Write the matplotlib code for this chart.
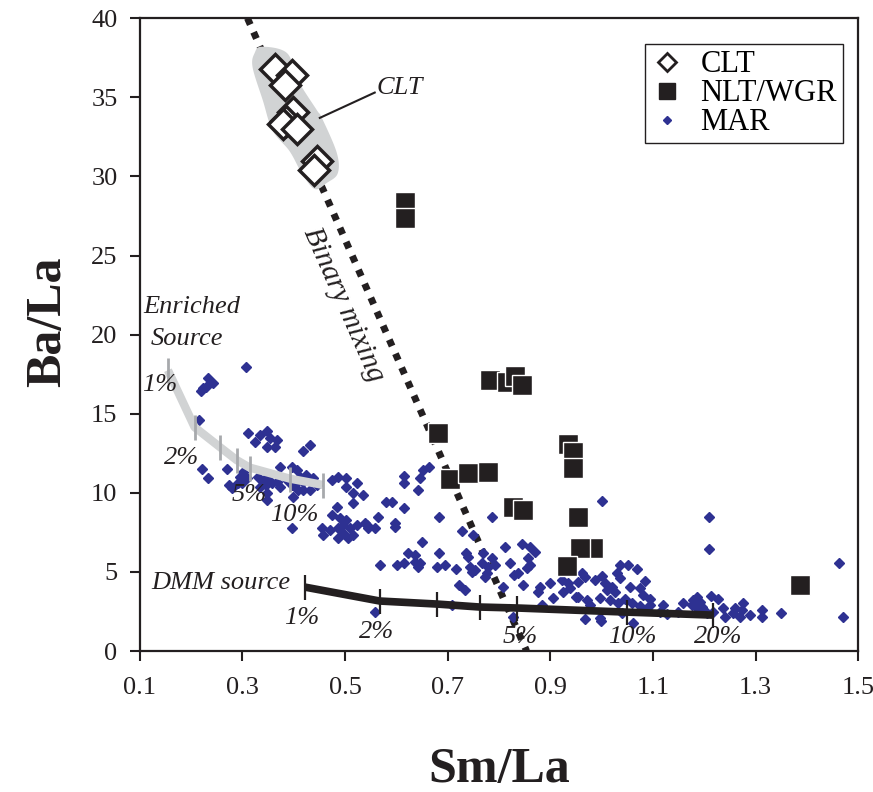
import numpy as np
import matplotlib.pyplot as plt
from matplotlib.lines import Line2D

plt.rcParams['font.family'] = ['Liberation Serif', 'DejaVu Serif']

INK = '#231f20'
BLUE = '#2e3192'
GRAY_FILL = '#d1d3d4'
GRAY_TICK = '#a7a9ac'

# CLT samples (open diamonds)
clt_sm = [0.363, 0.396, 0.383, 0.398, 0.385, 0.380, 0.406, 0.445, 0.440]
clt_ba = [36.8, 36.4, 35.8, 34.1, 33.5, 33.3, 33.0, 31.0, 30.4]

# NLT/WGR samples (filled squares)
nlt_sm = [0.617, 0.617, 0.681, 0.704, 0.739, 0.778, 0.782, 0.815, 0.831, 0.845,
          0.827, 0.847, 0.934, 0.944, 0.944, 0.954, 0.983, 0.958, 0.932, 1.387]
nlt_ba = [28.4, 27.35, 13.8, 10.9, 11.25, 11.3, 17.1, 17.0, 17.4, 16.8,
          9.1, 8.9, 13.1, 12.6, 11.55, 8.45, 6.5, 6.5, 5.4, 4.17]

# MAR basalts (Sm/La, Ba/La)
mar = [
    (0.307, 17.94), (0.233, 17.25), (0.242, 16.93), (0.223, 16.61), (0.219, 16.42),
    (0.229, 16.68), (0.215, 14.59), (0.312, 13.77), (0.334, 13.65), (0.348, 13.90),
    (0.324, 13.20), (0.353, 13.46), (0.367, 13.33), (0.349, 12.89), (0.363, 12.89),
    (0.418, 12.63), (0.431, 13.01), (0.221, 11.50), (0.233, 10.93), (0.270, 11.50),
    (0.373, 11.62), (0.396, 11.62), (0.406, 11.43), (0.295, 10.99), (0.301, 11.31),
    (0.309, 10.93), (0.291, 10.61), (0.299, 10.61), (0.275, 10.49), (0.279, 10.30),
    (0.330, 10.99), (0.340, 10.68), (0.349, 10.99), (0.334, 10.36), (0.346, 10.49),
    (0.357, 10.61), (0.367, 10.68), (0.373, 10.36), (0.387, 10.80), (0.396, 10.49),
    (0.406, 10.68), (0.412, 10.99), (0.418, 10.68), (0.425, 11.12), (0.408, 10.17),
    (0.418, 10.17), (0.398, 9.73), (0.437, 10.93), (0.445, 10.49), (0.431, 10.17),
    (0.474, 10.80), (0.486, 10.99), (0.503, 10.93), (0.523, 10.61), (0.503, 10.36),
    (0.515, 9.98), (0.535, 9.85), (0.515, 9.35), (0.348, 9.98), (0.349, 9.54),
    (0.396, 7.77), (0.484, 9.10), (0.474, 8.59), (0.490, 8.40), (0.503, 8.28),
    (0.496, 7.96), (0.486, 7.77), (0.509, 7.77), (0.523, 7.96), (0.455, 7.77),
    (0.457, 7.33), (0.470, 7.64), (0.496, 7.45), (0.505, 7.14), (0.515, 7.33),
    (0.486, 7.14), (0.542, 7.96),
    (0.616, 11.05), (0.616, 10.61), (0.646, 10.93), (0.642, 10.17), (0.652, 11.43),
    (0.663, 11.62), (0.579, 9.41), (0.591, 9.41), (0.616, 9.03), (0.564, 8.46),
    (0.539, 8.09), (0.544, 7.77), (0.558, 7.77), (0.597, 8.09), (0.597, 7.83),
    (0.683, 8.46), (0.786, 8.46), (0.728, 7.58), (0.749, 7.33), (0.650, 6.89),
    (0.622, 6.19), (0.636, 6.06), (0.636, 5.62), (0.642, 5.31), (0.646, 5.56),
    (0.568, 5.43), (0.601, 5.43), (0.616, 5.56), (0.683, 6.19), (0.679, 5.31),
    (0.694, 5.43), (0.716, 5.18), (0.735, 6.19), (0.739, 5.94), (0.743, 5.31),
    (0.747, 4.99), (0.753, 5.12), (0.767, 5.56), (0.778, 5.31), (0.786, 5.87),
    (0.776, 4.93), (0.772, 4.67), (0.792, 5.43), (0.811, 6.57), (0.821, 5.56),
    (0.829, 4.80), (0.837, 4.93), (0.846, 4.17), (0.845, 6.76), (0.860, 6.57),
    (0.870, 6.25), (0.856, 5.87), (0.860, 5.43), (0.854, 5.24), (0.807, 4.04),
    (0.880, 4.04), (0.876, 3.73), (0.899, 4.30), (0.905, 3.35), (0.922, 4.49),
    (0.924, 3.73), (0.934, 4.30), (0.938, 3.98), (0.950, 3.41), (0.722, 4.17),
    (0.733, 3.85), (0.708, 2.91), (0.884, 2.91), (0.558, 2.46), (0.827, 2.15),
    (0.769, 6.19),
    (1.000, 9.48), (1.209, 8.46), (1.209, 6.44), (1.462, 5.56), (1.036, 5.43),
    (1.051, 5.43), (1.069, 5.18), (1.000, 4.74), (1.030, 4.93), (1.036, 4.61),
    (1.084, 4.42), (0.961, 4.93), (0.967, 4.67), (0.954, 4.36), (0.987, 4.49),
    (1.006, 4.30), (1.020, 4.04), (1.010, 3.85), (1.026, 3.73), (1.055, 4.04),
    (1.075, 3.98), (0.954, 3.41), (0.971, 3.22), (0.977, 2.91), (0.997, 3.35),
    (1.016, 3.22), (1.032, 3.03), (1.045, 3.28), (1.059, 3.03), (1.080, 3.54),
    (1.094, 3.28), (1.075, 2.84), (1.088, 2.59), (1.094, 2.91), (1.039, 2.40),
    (0.997, 2.08), (0.967, 2.02), (1.119, 2.91), (1.113, 2.46), (1.127, 2.34),
    (1.149, 2.46), (1.158, 3.03), (1.178, 3.22), (1.186, 3.41), (1.192, 3.10),
    (1.176, 2.91), (1.195, 2.78), (1.186, 2.72), (1.213, 3.47), (1.227, 3.28),
    (1.205, 2.40), (1.217, 2.46), (1.236, 2.72), (1.240, 2.15), (1.256, 2.40),
    (1.260, 2.72), (1.275, 3.03), (1.273, 2.59), (1.269, 2.15), (1.289, 2.27),
    (1.312, 2.59), (1.312, 2.15), (1.349, 2.40), (1.470, 2.15), (0.998, 1.90),
    (1.061, 1.77),
]
mar = np.array(mar)

# melting curves
dmm_sm = [0.422, 0.568, 0.679, 0.763, 0.835, 1.049, 1.217]
dmm_ba = [4.04, 3.16, 2.97, 2.78, 2.72, 2.46, 2.27]
dmm_lab = [('1%', 0.416, 2.08), ('2%', 0.562, 1.20), ('5%', 0.841, 0.88),
           ('10%', 1.059, 0.88), ('20%', 1.227, 0.88)]

enr_sm = [0.155, 0.207, 0.256, 0.289, 0.314, 0.392, 0.457]
enr_ba = [17.75, 14.15, 12.9, 12.07, 11.6, 10.9, 10.5]
enr_lab = [('1%', 0.139, 16.8), ('2%', 0.182, 12.19), ('5%', 0.314, 9.85),
           ('10%', 0.402, 8.59)]

# binary mixing line end points
mix_sm = [0.31, 0.854]
mix_ba = [40, 0]

# outline of the CLT field
blob_sm = [0.338, 0.387, 0.408, 0.445, 0.455, 0.484, 0.486, 0.465, 0.441,
           0.416, 0.392, 0.359, 0.340, 0.320, 0.324]
blob_ba = [38.2, 37.8, 36.1, 34.2, 33.7, 31.5, 30.2, 29.6, 29.2,
           30.2, 31.6, 32.9, 34.8, 36.9, 37.8]


def smooth_closed(xs, ys, n=12):
    # periodic catmull-rom through the outline points
    p = np.column_stack([xs, ys])
    out = []
    m = len(p)
    for i in range(m):
        p0, p1, p2, p3 = p[i - 1], p[i], p[(i + 1) % m], p[(i + 2) % m]
        for t in np.linspace(0, 1, n, endpoint=False):
            t2, t3 = t * t, t * t * t
            out.append(0.5 * ((2 * p1) + (-p0 + p2) * t
                              + (2 * p0 - 5 * p1 + 4 * p2 - p3) * t2
                              + (-p0 + 3 * p1 - 3 * p2 + p3) * t3))
    return np.array(out)


fig = plt.figure(figsize=(8.73, 7.92), dpi=100)
ax = fig.add_axes([0.160, 0.178, 0.823, 0.799])

ax.plot(mix_sm, mix_ba, color=INK, lw=5, dashes=(1, 1.2), dash_capstyle='butt', zorder=2)

bl = smooth_closed(blob_sm, blob_ba)
ax.fill(bl[:, 0], bl[:, 1], color=GRAY_FILL, lw=0, zorder=3)

ax.plot(mar[:, 0], mar[:, 1], ls='none', marker='D', ms=4.8, color=BLUE, mec=BLUE, zorder=4)

ANN = 19

# enriched source melting curve
ax.plot(enr_sm, enr_ba, color=GRAY_FILL, lw=6, solid_capstyle='butt', zorder=5)
ax.plot(enr_sm, enr_ba, ls='none', marker='|', ms=18, mew=2, color=GRAY_TICK, zorder=5)
for s, x, y in enr_lab:
    ax.text(x, y, s, fontsize=ANN, style='italic', color=INK, ha='center', va='center', zorder=6)

# DMM melting curve
ax.plot(dmm_sm, dmm_ba, color=INK, lw=5.5, solid_capstyle='butt', zorder=5)
ax.plot(dmm_sm, dmm_ba, ls='none', marker='|', ms=18, mew=1.6, color=INK, zorder=5)
for s, x, y in dmm_lab:
    ax.text(x, y, s, fontsize=ANN, style='italic', color=INK, ha='center', va='center', zorder=6)

ax.plot(nlt_sm, nlt_ba, ls='none', marker='s', ms=14, mfc=INK, mec='white', mew=1, zorder=7)
ax.plot(clt_sm, clt_ba, ls='none', marker='D', ms=15, mfc='white', mec=INK, mew=2.5, zorder=8)

# annotations
ax.text(0.108, 21.75, 'Enriched', fontsize=ANN, style='italic', color=INK, va='center')
ax.text(0.122, 19.75, 'Source', fontsize=ANN, style='italic', color=INK, va='center')
ax.text(0.123, 4.30, 'DMM source', fontsize=ANN, style='italic', color=INK, va='center')
ax.text(0.496, 21.9, 'Binary mixing', fontsize=21, style='italic', color=INK,
        rotation=-66.2, rotation_mode='anchor', ha='center', va='center')
ax.plot([0.451, 0.558], [33.7, 35.3], color=INK, lw=1.5, zorder=6)
ax.text(0.562, 35.6, 'CLT', fontsize=ANN, style='italic', color=INK, va='center')

ax.set_xlim(0.1, 1.5)
ax.set_ylim(0, 40)
ax.set_xticks(np.round(np.arange(0.1, 1.51, 0.2), 1))
ax.set_xticklabels([f'{v:.1f}' for v in np.arange(0.1, 1.51, 0.2)])
ax.set_yticks(np.arange(0, 41, 5))
ax.tick_params(axis='both', direction='out', length=7, width=1.5, color=INK,
               labelsize=19, labelcolor=INK)
ax.tick_params(axis='x', pad=12)
ax.tick_params(axis='y', pad=9)
for sp in ax.spines.values():
    sp.set_linewidth(1.6)
    sp.set_color(INK)

ax.set_xlabel('Sm/La', fontsize=36, fontweight='bold', color=INK)
ax.set_ylabel('Ba/La', fontsize=36, fontweight='bold', color=INK)
ax.xaxis.set_label_coords(0.5, -0.152)
ax.yaxis.set_label_coords(-0.095, 0.52)

handles = [
    Line2D([], [], ls='none', marker='D', ms=9, mfc='white', mec=INK, mew=2),
    Line2D([], [], ls='none', marker='s', ms=11, mfc=INK, mec=INK),
    Line2D([], [], ls='none', marker='D', ms=4, mfc=BLUE, mec=BLUE),
]
leg = ax.legend(handles, ['CLT', 'NLT/WGR', 'MAR'], loc='upper right',
                bbox_to_anchor=(0.979, 0.959), borderaxespad=0, fontsize=22,
                frameon=True, fancybox=False, edgecolor=INK, framealpha=1,
                handlelength=1.0, handletextpad=0.6, labelspacing=0.0,
                borderpad=0.2)
leg.get_frame().set_linewidth(1.0)

fig.savefig('out.png', dpi=100)
